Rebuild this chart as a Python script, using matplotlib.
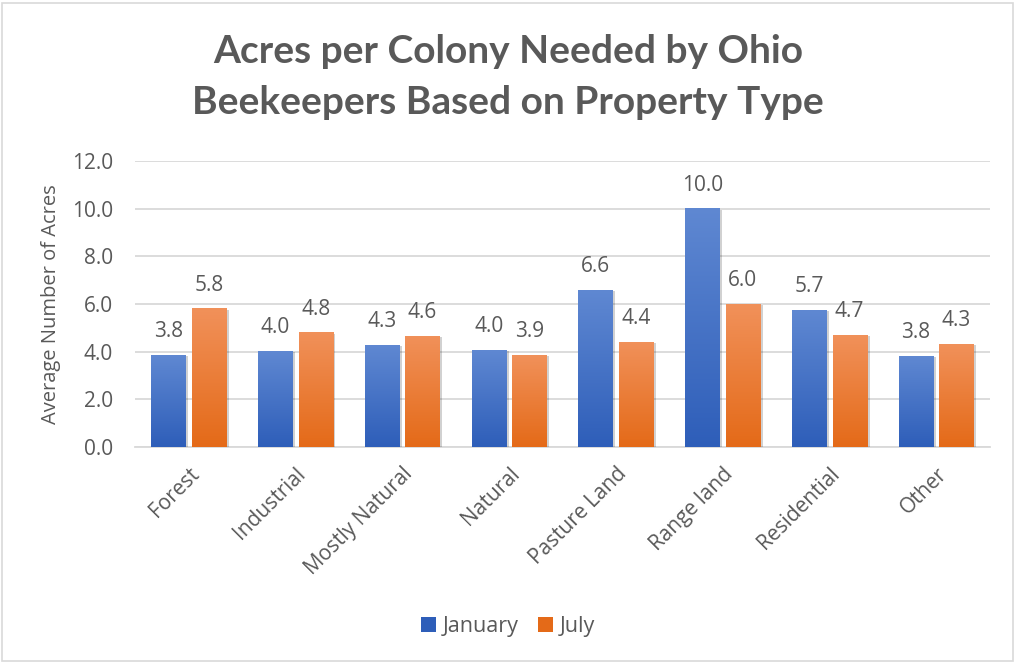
import numpy as np
import matplotlib
matplotlib.use('Agg')
import matplotlib.pyplot as plt
import matplotlib.patheffects as pe
from matplotlib.patches import Rectangle, Patch

### ================================================================
### Data
### ================================================================

categories = ['Forest', 'Industrial', 'Mostly Natural', 'Natural',
              'Pasture Land', 'Range land', 'Residential', 'Other']
january = [3.86, 4.03, 4.28, 4.07, 6.59, 10.01, 5.75, 3.82]
july = [5.82, 4.81, 4.66, 3.86, 4.41, 6.00, 4.70, 4.32]
jan_labels = ['3.8', '4.0', '4.3', '4.0', '6.6', '10.0', '5.7', '3.8']
jul_labels = ['5.8', '4.8', '4.6', '3.9', '4.4', '6.0', '4.7', '4.3']
yticks = [0, 2, 4, 6, 8, 10, 12]

### ================================================================
### Styling
### ================================================================

plt.rcParams['font.family'] = ['Open Sans', 'DejaVu Sans']
grey = '#595959'
blue_top, blue_bot = '#5f88d2', '#2e5eb9'
orange_top, orange_bot = '#f1915a', '#e46a18'

fig = plt.figure(figsize=(10.16, 6.64), dpi=100)
ax = fig.add_axes([0.133, 0.327, 0.841, 0.4305])

x = np.arange(len(categories))
w = 0.32
off = 0.19

shadow = [pe.SimplePatchShadow(offset=(2, -1), shadow_rgbFace='#000000', alpha=0.18), pe.Normal()]
bars_jan = ax.bar(x - off, january, w, color=blue_bot, zorder=3, path_effects=shadow)
bars_jul = ax.bar(x + off, july, w, color=orange_bot, zorder=3, path_effects=shadow)


def gradient(bars, top, bot):
    c1 = np.array(matplotlib.colors.to_rgb(top))
    c2 = np.array(matplotlib.colors.to_rgb(bot))
    t = np.linspace(0, 1, 256)[:, None]
    img = (c1 * (1 - t) + c2 * t)[:, None, :]
    for b in bars:
        x0, y0 = b.get_x(), b.get_y()
        im = ax.imshow(img, extent=[x0, x0 + b.get_width(), y0, y0 + b.get_height()],
                       aspect='auto', origin='upper', zorder=4)
        im.set_clip_path(b)


gradient(bars_jan, blue_top, blue_bot)
gradient(bars_jul, orange_top, orange_bot)

for bars, labs in [(bars_jan, jan_labels), (bars_jul, jul_labels)]:
    for b, lab in zip(bars, labs):
        ax.annotate(lab, (b.get_x() + b.get_width() / 2, b.get_height()),
                    xytext=(0, 9), textcoords='offset points', ha='center', va='bottom',
                    fontsize=15, color=grey)

ax.set_xlim(-0.5, len(categories) - 0.5)
ax.set_ylim(0, 12)
ax.set_yticks(yticks)
ax.set_yticklabels(['%.1f' % v for v in yticks], fontsize=15, color=grey)
ax.set_xticks(x)
ax.set_xticklabels(categories, rotation=45, ha='right', rotation_mode='anchor',
                   fontsize=15, color=grey)
ax.tick_params(axis='both', length=0)
ax.tick_params(axis='y', pad=16)
ax.tick_params(axis='x', pad=12)
ax.grid(axis='y', color='#d9d9d9', lw=1.3, zorder=0)
for s in ['top', 'right', 'left']:
    ax.spines[s].set_visible(False)
ax.spines['bottom'].set_color('#d9d9d9')
ax.spines['bottom'].set_linewidth(1.3)

ax.set_ylabel('Average Number of Acres', fontsize=14.5, color=grey, labelpad=8)

fig.text(0.5, 0.884, 'Acres per Colony Needed by Ohio\nBeekeepers Based on Property Type',
         ha='center', va='center', fontsize=28, fontweight='bold', color=grey,
         family=['Lato', 'DejaVu Sans'], linespacing=1.52)

handles = [Patch(facecolor=blue_bot, label='January'), Patch(facecolor=orange_bot, label='July')]
fig.legend(handles=handles, loc='center', bbox_to_anchor=(0.5, 0.057), ncol=2, frameon=False,
           fontsize=15.5, labelcolor=grey, handlelength=0.7, handleheight=0.7,
           handletextpad=0.3, columnspacing=0.9)

fig.patches.append(Rectangle((0.002, 0.005), 0.995, 0.99, transform=fig.transFigure,
                             fill=False, edgecolor='#d9d9d9', lw=1.2))

fig.savefig('out.png', dpi=100)
